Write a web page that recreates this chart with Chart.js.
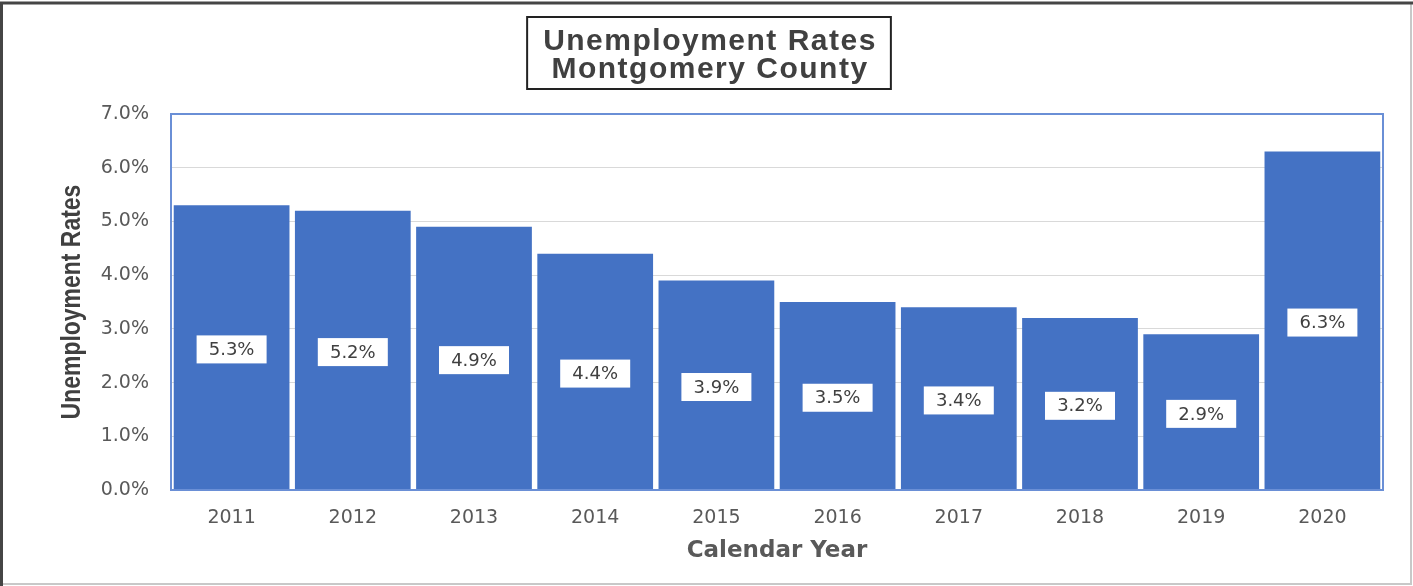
<!DOCTYPE html>
<html>
<head>
<meta charset="utf-8">
<title>Unemployment Rates</title>
<script src="https://cdn.jsdelivr.net/npm/chart.js@4/dist/chart.umd.min.js"></script>
<style>
  html, body { margin: 0; padding: 0; background: #fff; }
  canvas { display: block; }
</style>
</head>
<body>
<canvas id="rateChart" width="1413" height="586"></canvas>
<script>
// Annual unemployment rate, percent
const years = ['2011', '2012', '2013', '2014', '2015', '2016', '2017', '2018', '2019', '2020'];
const rates = [5.3, 5.2, 4.9, 4.4, 3.9, 3.5, 3.4, 3.2, 2.9, 6.3];
const titleLines = ['Unemployment Rates', 'Montgomery County'];
const yTitle = 'Unemployment Rates';

const BAR_BLUE = '#4472C4';
const TEXT_GRAY = '#595959';
const WIDE_FONT = '"DejaVu Sans", Verdana, sans-serif';

// outer frame + boxed title + narrow y-axis title
const frameAndTitle = {
    id: 'frameAndTitle',
    beforeDraw(chart) {
        const { ctx, width, height } = chart;
        ctx.save();
        ctx.fillStyle = '#fff';
        ctx.fillRect(0, 0, width, height);

        ctx.strokeStyle = '#c8c8c8';
        ctx.lineWidth = 2;
        ctx.beginPath();
        ctx.moveTo(1411, 3);
        ctx.lineTo(1411, 584);
        ctx.lineTo(2, 584);
        ctx.stroke();

        ctx.strokeStyle = '#454545';
        ctx.lineWidth = 3;
        ctx.beginPath();
        ctx.moveTo(1.5, height);
        ctx.lineTo(1.5, 3);
        ctx.lineTo(width, 3);
        ctx.stroke();

        // title box
        ctx.font = 'bold 30px "Liberation Sans", Arial, sans-serif';
        ctx.letterSpacing = '1.5px';
        const cx = 709;
        const w = Math.max(...titleLines.map(t => ctx.measureText(t).width)) + 30;
        ctx.strokeStyle = '#222';
        ctx.lineWidth = 2;
        ctx.strokeRect(cx - w / 2, 17, w, 72);
        ctx.fillStyle = '#404040';
        ctx.textAlign = 'center';
        ctx.textBaseline = 'middle';
        ctx.fillText(titleLines[0], cx + 1, 42);
        ctx.fillText(titleLines[1], cx + 1, 70);
        ctx.restore();

        // y-axis title, squeezed along its length like a narrow face
        const a = chart.chartArea;
        ctx.save();
        ctx.translate(72, (a.top + a.bottom) / 2);
        ctx.rotate(-Math.PI / 2);
        ctx.scale(0.82, 1);
        ctx.font = 'bold 28px "Liberation Sans", Arial, sans-serif';
        ctx.fillStyle = '#404040';
        ctx.textAlign = 'center';
        ctx.textBaseline = 'middle';
        ctx.fillText(yTitle, 0, 0);
        ctx.restore();
    },
    afterDraw(chart) {
        // plot area outline
        const { ctx, chartArea: a } = chart;
        ctx.save();
        ctx.strokeStyle = '#6a8fd6';
        ctx.lineWidth = 2;
        ctx.strokeRect(a.left, a.top, a.right - a.left, a.bottom - a.top);
        ctx.restore();
    }
};

// white value boxes in the middle of each bar
const valueBoxes = {
    id: 'valueBoxes',
    afterDatasetsDraw(chart) {
        const { ctx } = chart;
        const meta = chart.getDatasetMeta(0);
        ctx.save();
        ctx.font = '18px ' + WIDE_FONT;
        ctx.textAlign = 'center';
        ctx.textBaseline = 'middle';
        meta.data.forEach((bar, i) => {
            const { x, y, base } = bar.getProps(['x', 'y', 'base'], true);
            const cy = (y + base) / 2 + 2;
            ctx.fillStyle = '#fff';
            ctx.fillRect(x - 35, cy - 14, 70, 28);
            ctx.fillStyle = '#404040';
            ctx.fillText(rates[i].toFixed(1) + '%', x, cy + 1);
        });
        ctx.restore();
    }
};

new Chart(document.getElementById('rateChart'), {
    type: 'bar',
    data: {
        labels: years,
        datasets: [{
            data: rates,
            backgroundColor: BAR_BLUE,
            borderWidth: 0,
            barPercentage: 0.955,
            categoryPercentage: 1.0
        }]
    },
    options: {
        responsive: false,
        animation: false,
        layout: { padding: { top: 114, right: 30, bottom: 0, left: 0 } },
        plugins: {
            legend: { display: false },
            tooltip: { enabled: false }
        },
        scales: {
            x: {
                grid: { display: false, drawTicks: false },
                border: { display: false },
                ticks: {
                    color: TEXT_GRAY,
                    padding: 17,
                    font: { family: WIDE_FONT, size: 19 }
                },
                title: {
                    display: true,
                    text: 'Calendar Year',
                    color: TEXT_GRAY,
                    padding: { top: 0, bottom: 21 },
                    font: { family: WIDE_FONT, size: 23, weight: 'bold' }
                },
                afterFit(scale) { scale.height = 96; }
            },
            y: {
                min: 0,
                max: 7,
                grid: { color: '#d9d9d9', lineWidth: 1, drawTicks: false },
                border: { display: false },
                ticks: {
                    stepSize: 1,
                    color: TEXT_GRAY,
                    padding: 22,
                    font: { family: WIDE_FONT, size: 19 },
                    callback: v => v.toFixed(1) + '%'
                },
                afterFit(scale) { scale.width = 171; }
            }
        }
    },
    plugins: [frameAndTitle, valueBoxes]
});
</script>
</body>
</html>
